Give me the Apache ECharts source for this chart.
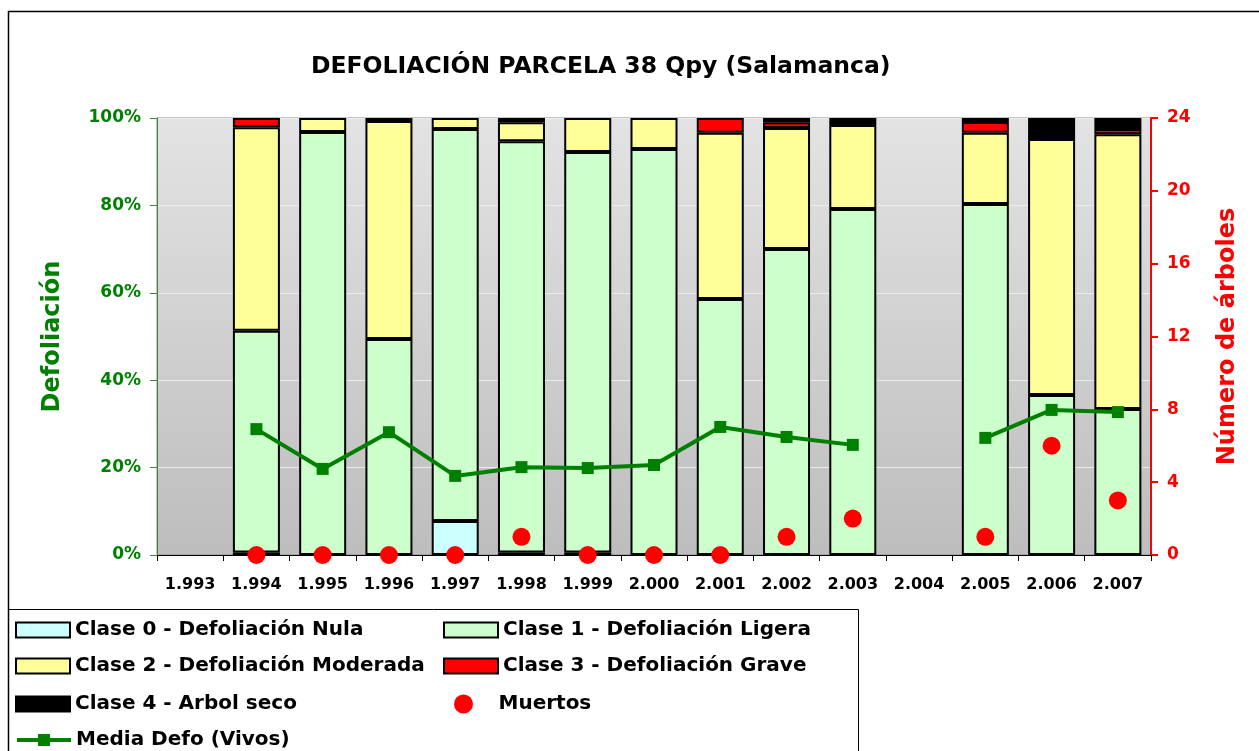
<!DOCTYPE html>
<html>
<head>
<meta charset="utf-8">
<script src="https://cdn.jsdelivr.net/npm/echarts@6/dist/echarts.min.js"></script>
<style>html,body{margin:0;padding:0;background:#fff;}#c{width:1259px;height:751px;}</style>
</head>
<body>
<div id="c"></div>
<script>
var years = ['1.993','1.994','1.995','1.996','1.997','1.998','1.999','2.000','2.001','2.002','2.003','2.004','2.005','2.006','2.007'];
var clase0 = [null,0.6,null,null,7.8,0.6,0.6,null,null,null,null,null,null,null,null];
var clase1 = [null,50.7,96.8,49.4,89.7,94.1,91.6,92.9,58.6,70.0,79.2,null,80.3,36.6,33.4];
var clase2 = [null,46.6,3.2,49.9,2.5,4.3,7.8,7.1,38.0,27.7,19.2,null,16.3,58.6,62.9];
var clase3 = [null,2.1,null,0.7,null,null,null,null,3.4,1.3,null,null,2.5,null,1.2];
var clase4 = [null,null,null,null,null,1.0,null,null,null,1.0,1.6,null,0.9,4.8,2.5];
var mediaDefo = [null,28.8,19.7,28.1,18.1,20.1,19.9,20.6,29.3,27.0,25.2,null,26.8,33.2,32.7];
var muertos = [null,0,0,0,0,1,0,0,0,1,2,null,1,6,3];
var leftTicks = [0,20,40,60,80,100];
var rightTicks = [0,4,8,12,16,20,24];

var chart = echarts.init(document.getElementById('c'));
var F = 'DejaVu Sans, Verdana, sans-serif';
function barSeries(name, data, color) {
  return {
    name: name, type: 'bar', stack: 'defo', data: data, barWidth: 47,
    itemStyle: {color: color, borderColor: '#000', borderWidth: 2},
    emphasis: {disabled: true}
  };
}
function legendAt(name, left, top, extra) {
  var l = {
    data: [{name: name, icon: 'rect'}], left: left, top: top, padding: 0,
    itemWidth: 54, itemHeight: 15, itemGap: 6,
    textStyle: {fontFamily: F, fontSize: 20, fontWeight: 'bold', color: '#000'},
    itemStyle: {borderColor: '#000', borderWidth: 2},
    selectedMode: false
  };
  if (extra) { for (var k in extra) l[k] = extra[k]; }
  return l;
}
var option = {
  animation: false,
  backgroundColor: '#fff',
  title: {
    text: 'DEFOLIACIÓN PARCELA 38 Qpy (Salamanca)', left: 306, top: 50,
    textStyle: {fontFamily: F, fontSize: 23.5, fontWeight: 'bold', color: '#000'}
  },
  grid: {
    left: 157, right: 108, top: 118, bottom: 196, show: true,
    backgroundColor: new echarts.graphic.LinearGradient(0, 0, 0, 1, [
      {offset: 0, color: '#e3e3e3'}, {offset: 1, color: '#bdbdbd'}
    ]),
    borderColor: '#8a8a8a', borderWidth: 1
  },
  legend: [
    legendAt('Clase 0 - Defoliación Nula', 15, 620),
    legendAt('Clase 1 - Defoliación Ligera', 443, 620),
    legendAt('Clase 2 - Defoliación Moderada', 15, 656),
    legendAt('Clase 3 - Defoliación Grave', 443, 656),
    legendAt('Clase 4 - Arbol seco', 15, 694),
    legendAt('Muertos', 454, 694, {data: [{name: 'Muertos', icon: 'circle'}], itemWidth: 60, itemHeight: 19, itemStyle: {borderWidth: 0, color: '#ff0000'}}),
    legendAt('Media Defo (Vivos)', 15, 730, {data: [{name: 'Media Defo (Vivos)'}], itemStyle: {color: '#008000', borderWidth: 0}, lineStyle: {color: '#008000', width: 4}})
  ],
  xAxis: {
    type: 'category', data: years, boundaryGap: true,
    axisLine: {lineStyle: {color: '#000', width: 1}},
    axisTick: {show: true, length: 6, lineStyle: {color: '#000'}},
    axisLabel: {fontFamily: F, fontSize: 16, fontWeight: 'bold', color: '#000', margin: 22, interval: 0}
  },
  yAxis: [
    {
      type: 'value', min: 0, max: 100, interval: 20,
      name: 'Defoliación', nameLocation: 'middle', nameGap: 92, nameRotate: 90,
      nameTextStyle: {fontFamily: F, fontSize: 24, fontWeight: 'bold', color: '#008000'},
      axisLine: {show: true, lineStyle: {color: '#3a8a3a', width: 1}},
      axisTick: {show: true, length: 7, lineStyle: {color: '#3a8a3a'}},
      axisLabel: {fontFamily: F, fontSize: 17, fontWeight: 'bold', color: '#008000', margin: 16,
        formatter: function (v) { return leftTicks.indexOf(v) >= 0 ? v + '%' : ''; }},
      splitLine: {show: true, lineStyle: {color: '#ececec', width: 1}}
    },
    {
      type: 'value', min: 0, max: 24, interval: 4, position: 'right',
      name: 'Número de árboles', nameLocation: 'middle', nameGap: 65, nameRotate: 90,
      nameTextStyle: {fontFamily: F, fontSize: 24, fontWeight: 'bold', color: '#ff0000'},
      axisLine: {show: true, lineStyle: {color: '#ff0000', width: 2}},
      axisTick: {show: true, length: 7, lineStyle: {color: '#ff0000', width: 2}},
      axisLabel: {fontFamily: F, fontSize: 17, fontWeight: 'bold', color: '#ff0000', margin: 16,
        formatter: function (v) { return rightTicks.indexOf(v) >= 0 ? String(v) : ''; }},
      splitLine: {show: false}
    }
  ],
  series: [
    barSeries('Clase 0 - Defoliación Nula', clase0, '#ccffff'),
    barSeries('Clase 1 - Defoliación Ligera', clase1, '#ccffcc'),
    barSeries('Clase 2 - Defoliación Moderada', clase2, '#ffff99'),
    barSeries('Clase 3 - Defoliación Grave', clase3, '#ff0000'),
    barSeries('Clase 4 - Arbol seco', clase4, '#000000'),
    {
      name: 'Muertos', type: 'scatter', yAxisIndex: 1, data: muertos,
      symbol: 'circle', symbolSize: 18, itemStyle: {color: '#ff0000', opacity: 1}, z: 5,
      emphasis: {disabled: true}
    },
    {
      name: 'Media Defo (Vivos)', type: 'line', data: mediaDefo, connectNulls: false,
      symbol: 'rect', symbolSize: 12, lineStyle: {color: '#008000', width: 4},
      itemStyle: {color: '#008000'}, z: 6, emphasis: {disabled: true}
    }
  ],
  graphic: [
    {type: 'rect', shape: {x: 8.5, y: 11.5, width: 1265, height: 760}, style: {fill: 'none', stroke: '#000', lineWidth: 1.5}, silent: true, z: -1},
    {type: 'rect', shape: {x: 8.5, y: 609.5, width: 850, height: 160}, style: {fill: 'none', stroke: '#000', lineWidth: 1}, silent: true, z: -1}
  ]
};
chart.setOption(option);
</script>
</body>
</html>
